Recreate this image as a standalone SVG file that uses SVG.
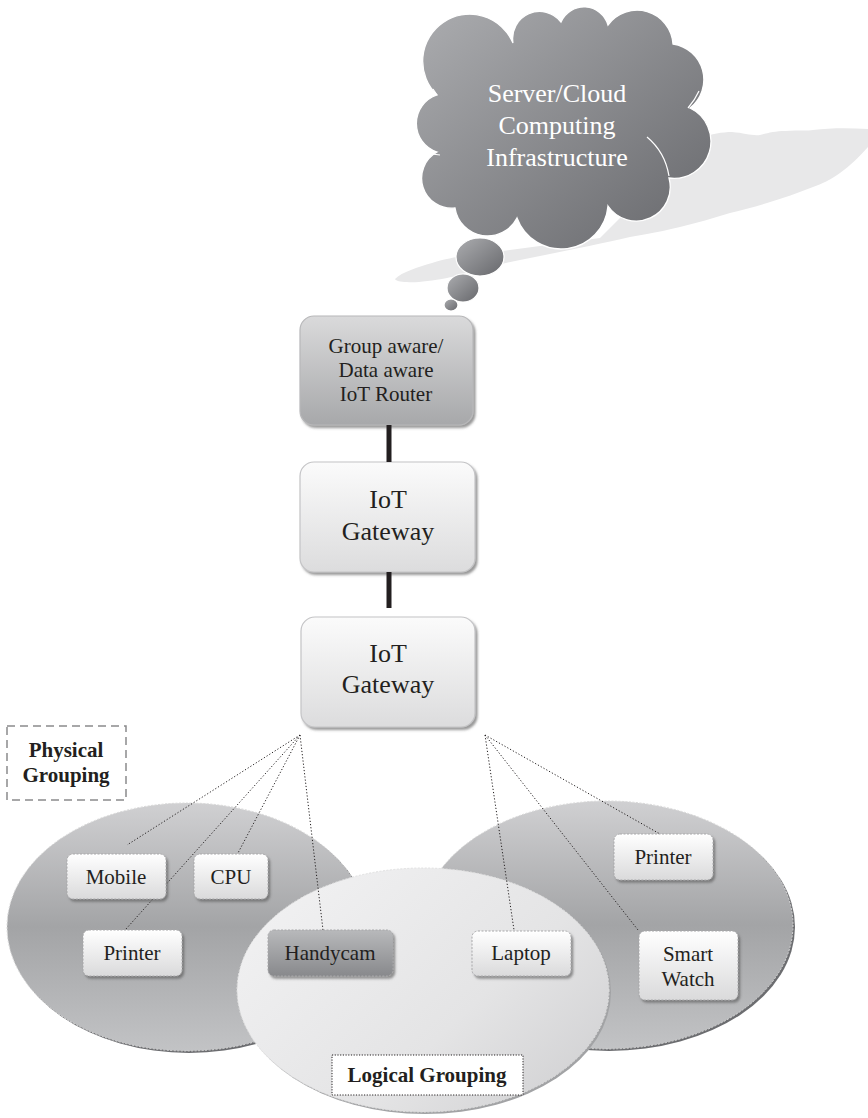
<svg xmlns="http://www.w3.org/2000/svg" width="868" height="1118" viewBox="0 0 868 1118">
  <defs>
    <linearGradient id="gCloud" x1="0" y1="0" x2="1" y2="1">
      <stop offset="0" stop-color="#acadb0"/>
      <stop offset="1" stop-color="#66676b"/>
    </linearGradient>
    <linearGradient id="gRouter" x1="0" y1="0" x2="0" y2="1">
      <stop offset="0" stop-color="#dadadb"/>
      <stop offset="1" stop-color="#a7a8aa"/>
    </linearGradient>
    <linearGradient id="gGate" x1="0" y1="0" x2="0" y2="1">
      <stop offset="0" stop-color="#fbfbfb"/>
      <stop offset="1" stop-color="#dcdcdd"/>
    </linearGradient>
    <linearGradient id="gDevice" x1="0" y1="0" x2="0" y2="1">
      <stop offset="0" stop-color="#ffffff"/>
      <stop offset="1" stop-color="#dadadb"/>
    </linearGradient>
    <linearGradient id="gDark" x1="0" y1="0" x2="0" y2="1">
      <stop offset="0" stop-color="#b8b9bb"/>
      <stop offset="1" stop-color="#88898c"/>
    </linearGradient>
    <linearGradient id="gPhys" x1="0" y1="0" x2="0" y2="1">
      <stop offset="0" stop-color="#d0d0d2"/>
      <stop offset="0.5" stop-color="#a3a4a6"/>
      <stop offset="1" stop-color="#c2c3c5"/>
    </linearGradient>
    <linearGradient id="gLogic" x1="0" y1="0.3" x2="1" y2="1">
      <stop offset="0" stop-color="#f0f0f1"/>
      <stop offset="0.55" stop-color="#e4e4e5"/>
      <stop offset="1" stop-color="#cdcdcf"/>
    </linearGradient>
    <filter id="drop" x="-20%" y="-20%" width="140%" height="150%">
      <feDropShadow dx="2" dy="2.5" stdDeviation="1.2" flood-color="#555" flood-opacity="0.6"/>
    </filter>
  </defs>
  <style>
    text { font-family: "Liberation Serif", "Times New Roman", serif; fill: #231f20; text-anchor: middle; }
    .big { font-size: 26px; }
    .mid { font-size: 21px; }
    .bold { font-size: 21px; font-weight: bold; }
    .white { fill: #ffffff; }
    .gate { fill: url(#gGate); stroke: #c4c4c6; stroke-width: 1.2; filter: url(#drop); }
    .device { fill: url(#gDevice); stroke: #a8a8aa; stroke-width: 1; stroke-dasharray: 2 1.5; filter: url(#drop); }
    .thick { stroke: #231f20; stroke-width: 5; fill: none; }
    .dot { stroke: #231f20; stroke-width: 1; stroke-dasharray: 1.2 2; fill: none; }
    .bubble { fill: url(#gCloud); stroke: #ffffff; stroke-width: 1.2; }
    .seam { fill: none; stroke: #ffffff; stroke-width: 1.2; }
  </style>

  <rect width="868" height="1118" fill="#ffffff"/>

  <!-- cast shadow of the cloud and its thought bubbles -->
  <path fill="#e8e8e9" d="M395 279 C402 272 418 267 432 263 C445 259 455 257 465 256 L600 238 L700 138 C712 134 722 132 732 132 C745 133 752 136 760 135 C768 133 775 131 785 131 C800 130 808 131 813 130 C830 128 848 128 868 129 L868 147 C858 158 850 166 840 173 C830 180 822 184 813 187 C798 193 783 198 767 203 C755 207 742 210 730 213 C713 218 697 223 680 227 C668 230 657 232 647 234 L630 237 C600 244 560 252 520 260 C490 266 465 274 447 278 C430 281 415 283 407 282 C400 282 396 281 395 279 Z"/>

  <!-- cloud -->
  <g id="cloud">
    <path fill="url(#gCloud)" stroke="#ffffff" stroke-width="1.3" d="M437 95 A47 47 0 1 1 513 43 A27 27 0 0 1 561 22 A25 25 0 0 1 608 25 A36 36 0 0 1 673 44 A36 36 0 0 1 690 108 A37 37 0 0 1 669 178 A34 34 0 0 1 608 206 A47 47 0 0 1 517 218 A33 33 0 0 1 455 208 A30 30 0 0 1 437 152 A30 30 0 0 1 437 95 Z"/>
    <path class="seam" d="M647 137 Q665 152 669 176"/>
    <path class="seam" d="M424 153 L440 155"/>
    <path class="seam" d="M437 95 L433 89"/>
    <path class="seam" d="M688 108 Q695 100 699 91"/>
    <text class="big white" x="557" y="102">Server/Cloud</text>
    <text class="big white" x="557" y="134">Computing</text>
    <text class="big white" x="557" y="166">Infrastructure</text>
    <ellipse class="bubble" cx="480" cy="257" rx="24" ry="19"/>
    <ellipse class="bubble" cx="463" cy="288" rx="16" ry="14"/>
    <ellipse class="bubble" cx="451" cy="305" rx="7" ry="6"/>
  </g>

  <!-- router and gateways -->
  <g id="router">
    <rect x="300" y="316" width="173" height="109" rx="14" fill="url(#gRouter)" stroke="#b8b8ba" stroke-width="1.2" filter="url(#drop)"/>
    <text class="mid" x="386" y="353">Group aware/</text>
    <text class="mid" x="386" y="377">Data aware</text>
    <text class="mid" x="386" y="401">IoT Router</text>
  </g>
  <g id="gateway1">
    <rect class="gate" x="300" y="462" width="175" height="110" rx="14"/>
    <text class="big" x="388" y="508">IoT</text>
    <text class="big" x="388" y="540">Gateway</text>
  </g>
  <g id="gateway2">
    <rect class="gate" x="301" y="617" width="174" height="110" rx="14"/>
    <text class="big" x="388" y="662">IoT</text>
    <text class="big" x="388" y="693">Gateway</text>
  </g>

  <!-- groupings -->
  <g id="physical-left">
    <ellipse cx="189" cy="929" rx="180" ry="124" fill="#6c6d70"/>
    <ellipse cx="187" cy="927" rx="180" ry="124" fill="url(#gPhys)" stroke="#d8d8d8" stroke-width="1" stroke-dasharray="2 1.5"/>
  </g>
  <g id="physical-right">
    <ellipse cx="609" cy="927" rx="186" ry="124" fill="#6c6d70"/>
    <ellipse cx="607" cy="925" rx="186" ry="124" fill="url(#gPhys)" stroke="#d8d8d8" stroke-width="1" stroke-dasharray="2 1.5"/>
  </g>
  <g id="logical">
    <ellipse cx="425" cy="992" rx="186" ry="122" fill="#a2a3a5"/>
    <ellipse cx="423" cy="990" rx="186" ry="122" fill="url(#gLogic)" stroke="#e0e0e0" stroke-width="1" stroke-dasharray="2 1.5"/>
  </g>

  <!-- connectors -->
  <g id="connectors">
    <line class="thick" x1="389" y1="425" x2="389" y2="462"/>
    <line class="thick" x1="389" y1="572" x2="389" y2="608"/>
    <path class="dot" d="M300 735 L127 845 M300 735 L126 929 M300 735 L238 853 M300 735 L323 930"/>
    <path class="dot" d="M485 735 L514 930 M485 735 L638 930 M485 735 L660 834"/>
  </g>

  <!-- devices -->
  <g id="mobile">
    <rect class="device" x="67" y="854" width="99" height="45" rx="6"/>
    <text class="mid" x="116" y="884">Mobile</text>
  </g>
  <g id="cpu">
    <rect class="device" x="194" y="854" width="74" height="45" rx="6"/>
    <text class="mid" x="231" y="884">CPU</text>
  </g>
  <g id="printer-left">
    <rect class="device" x="83" y="930" width="99" height="46" rx="6"/>
    <text class="mid" x="132" y="960">Printer</text>
  </g>
  <g id="handycam">
    <rect class="device" x="268" y="930" width="125" height="46" rx="6" style="fill:url(#gDark)"/>
    <text class="mid" x="330" y="960">Handycam</text>
  </g>
  <g id="laptop">
    <rect class="device" x="472" y="931" width="99" height="45" rx="6"/>
    <text class="mid" x="521" y="960">Laptop</text>
  </g>
  <g id="printer-right">
    <rect class="device" x="614" y="834" width="99" height="46" rx="6"/>
    <text class="mid" x="663" y="864">Printer</text>
  </g>
  <g id="smart-watch">
    <rect class="device" x="639" y="931" width="99" height="69" rx="6"/>
    <text class="mid" x="688" y="961">Smart</text>
    <text class="mid" x="688" y="986">Watch</text>
  </g>

  <!-- labels -->
  <g id="physical-label">
    <rect x="7" y="726" width="119" height="74" fill="#ffffff" stroke="#8a8a8c" stroke-width="1.5" stroke-dasharray="8 5"/>
    <text class="bold" x="66" y="757">Physical</text>
    <text class="bold" x="66" y="782">Grouping</text>
  </g>
  <g id="logical-label">
    <rect x="332" y="1055" width="191" height="40" fill="#ffffff" stroke="#231f20" stroke-width="1" stroke-dasharray="1.2 1.5"/>
    <text class="bold" x="427" y="1082">Logical Grouping</text>
  </g>
</svg>
